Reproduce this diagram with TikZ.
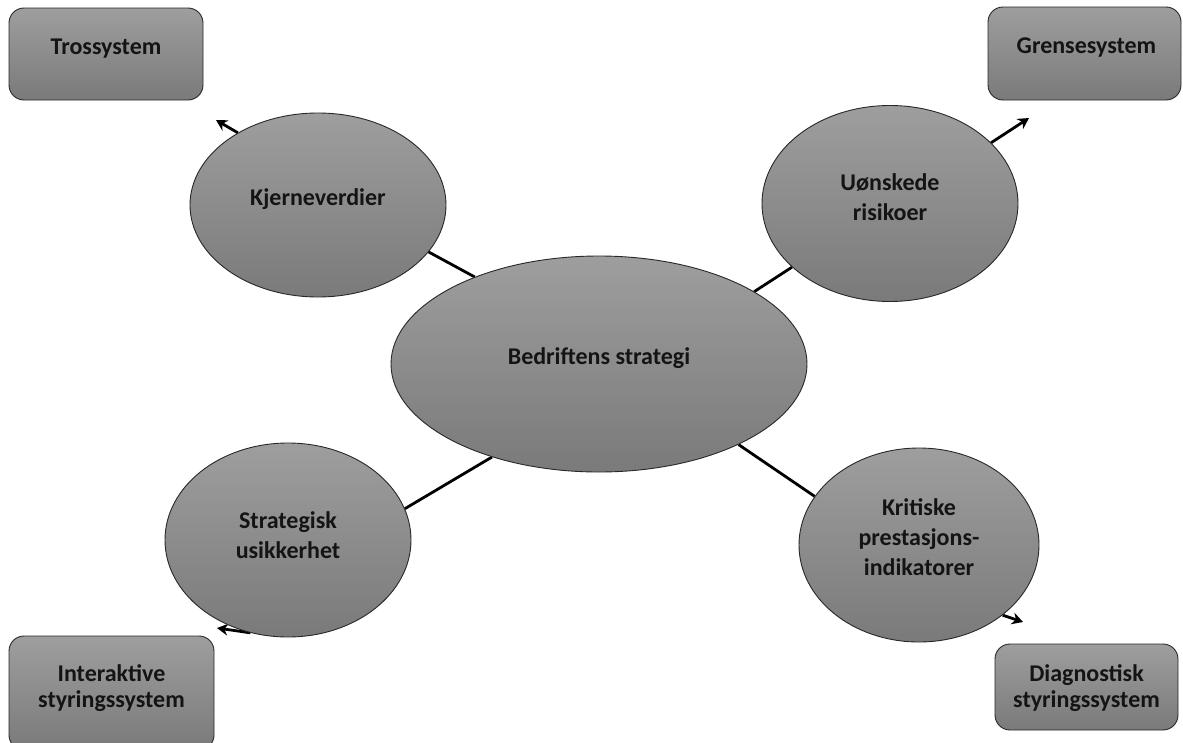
\documentclass[tikz,border=0pt]{standalone}
\usepackage{fontspec}
\setmainfont{Carlito}
\usetikzlibrary{shapes.geometric,arrows.meta,backgrounds}
\begin{document}
\begin{tikzpicture}[x=1pt,y=-1pt,
  grayfill/.style={top color={rgb,255:red,158;green,158;blue,158},
                   bottom color={rgb,255:red,122;green,122;blue,122},
                   draw={rgb,255:red,40;green,40;blue,40}, line width=0.9pt},
  txt/.style={font=\fontsize{24}{30}\selectfont\bfseries, text={rgb,255:red,20;green,20;blue,20}, align=center, inner sep=0pt},
  boxtxt/.style={txt, font=\fontsize{24}{25.5}\selectfont\bfseries},
  oval/.style={ellipse, grayfill, inner sep=0pt},
  sysbox/.style={rectangle, rounded corners=15pt, grayfill, inner sep=0pt},
  link/.style={line width=2.8pt, black},
  pointer/.style={line width=2.8pt, black, -{Stealth[length=11pt,width=12pt]}}
]
\useasboundingbox (0,0) rectangle (1183,742);

% outer control systems
\node[sysbox, minimum width=194pt, minimum height=92pt] (tro) at (106,54) {};
\node[boxtxt] (tro-t) at ([yshift=5pt]tro.center) {Trossystem};
\node[sysbox, minimum width=193pt, minimum height=93pt] (gre) at (1084.5,53.5) {};
\node[boxtxt] (gre-t) at ([yshift=6pt,xshift=2pt]gre.center) {Grensesystem};
\node[sysbox, minimum width=205pt, minimum height=114pt] (int) at (111.5,693) {};
\node[boxtxt] (int-t) at ([yshift=5pt]int.center) {Interaktive\\styringssystem};
\node[sysbox, minimum width=183pt, minimum height=86pt] (dia) at (1086.5,687) {};
\node[boxtxt] (dia-t) at ([yshift=-1pt]dia.center) {Diagnostisk\\styringssystem};

% ovals
\node[oval, minimum width=416pt, minimum height=216pt] (bs) at (599,364) {};
\node[oval, minimum width=256pt, minimum height=184pt] (kj) at (318,205) {};
\node[oval, minimum width=256pt, minimum height=196pt] (uo) at (890,203.5) {};
\node[oval, minimum width=246pt, minimum height=194pt] (su) at (288,540) {};
\node[oval, minimum width=240pt, minimum height=194pt] (kr) at (919,545) {};

\node[txt] (bs-t) at ([yshift=6pt]bs.center) {Bedriftens strategi};
\node[txt] (kj-t) at ([yshift=6pt]kj.center) {Kjerneverdier};
\node[txt] (uo-t) at ([yshift=6pt]uo.center) {Uønskede\\risikoer};
\node[txt] (su-t) at ([yshift=5pt]su.center) {Strategisk\\usikkerhet};
\node[txt] (kr-t) at ([yshift=8pt]kr.center) {Kritiske\\prestasjons-\\indikatorer};

% free ends of the pointers
\coordinate (ptro) at (216,120);
\coordinate (pgre) at (1029,118);
\coordinate (pint) at (217,628);
\coordinate (pdia) at (1023,622);

\begin{scope}[on background layer]
% connectors between the ovals
\draw[link] (kj.-23.2) -- (bs.145.9);
\draw[link] (uo.-147) -- (bs.25);
\draw[link] (su.15) -- (bs.-139.5);
\draw[link] (bs.-30.4) -- (kr.155.9);
% pointers from the ovals toward the systems
\draw[pointer] (kj.138.4) -- (ptro);
\draw[pointer] (uo.31) -- (pgre);
\draw[pointer] (su.-112) -- (pint);
\draw[pointer] (kr.-40) -- (pdia);
\end{scope}
\end{tikzpicture}
\end{document}
